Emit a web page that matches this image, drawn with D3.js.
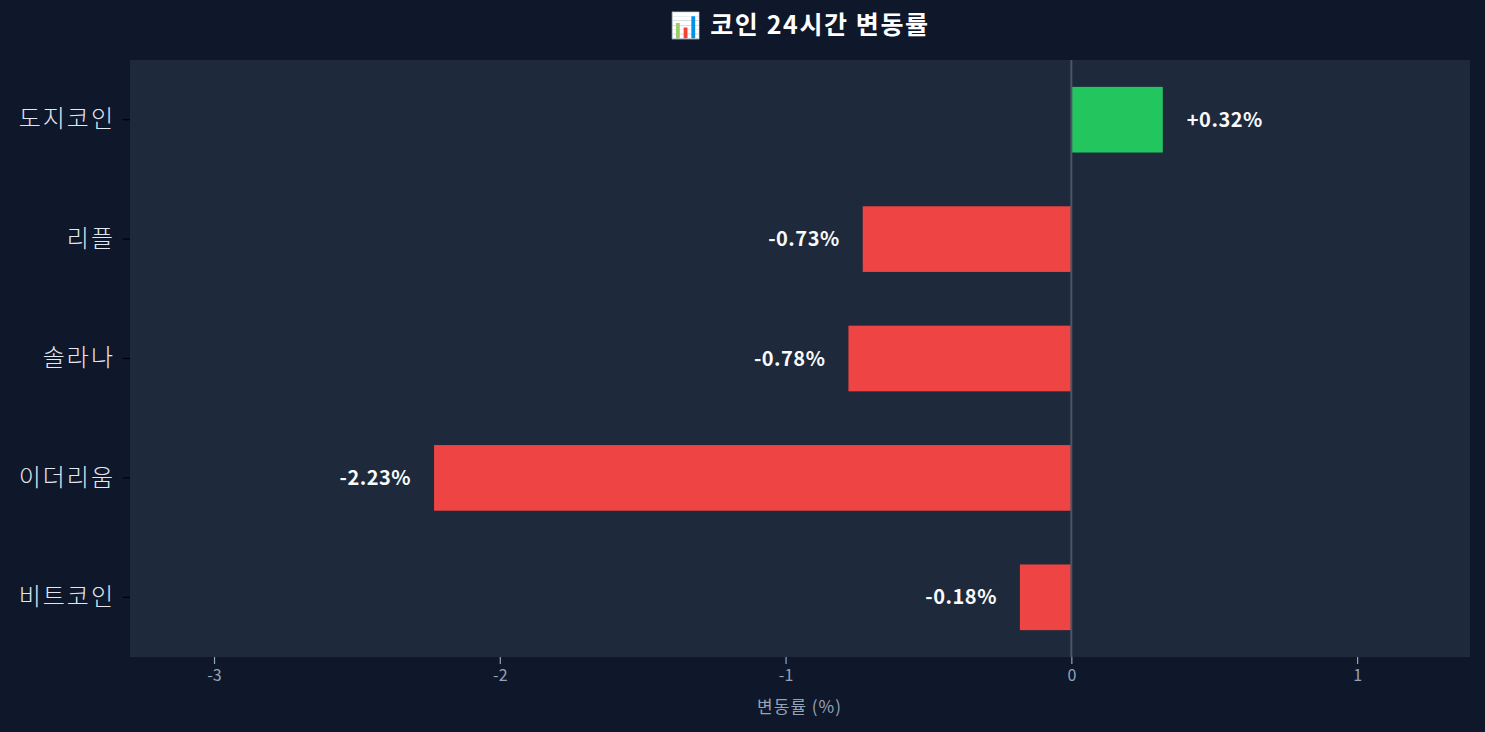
<!DOCTYPE html>
<html>
<head>
<meta charset="utf-8">
<script src="https://cdn.jsdelivr.net/npm/d3@7"></script>
<style>
  body { margin: 0; background: #0f172a; }
  svg { display: block; font-family: "Noto Sans CJK KR", "Noto Sans", sans-serif; }
</style>
</head>
<body>
<div id="chart-area"></div>
<script>
// data
let coins = ["도지코인", "리플", "솔라나", "이더리움", "비트코인"];
let changes = [0.32, -0.73, -0.78, -2.23, -0.18];
let xTicks = [-3, -2, -1, 0, 1];

// define margins
let margin = { top: 60, right: 15, bottom: 75, left: 130 };
let totalW = 1485, totalH = 732;
let width = totalW - margin.left - margin.right,
    height = totalH - margin.top - margin.bottom;

let svgRoot = d3.select("#chart-area")
    .append("svg")
    .attr("width", totalW)
    .attr("height", totalH);

svgRoot.append("rect")
    .attr("width", totalW)
    .attr("height", totalH)
    .attr("fill", "#0f172a");

// title
svgRoot.append("text")
    .attr("x", 800)
    .attr("y", 34)
    .attr("text-anchor", "middle")
    .attr("fill", "#ffffff")
    .attr("font-size", 25)
    .attr("font-weight", "bold")
    .attr("letter-spacing", 1.6)
    .text("📊 코인 24시간 변동률");

let svg = svgRoot.append("g")
    .attr("transform", "translate(" + margin.left + "," + margin.top + ")");

svg.append("rect")
    .attr("width", width)
    .attr("height", height)
    .attr("fill", "#1e293b");

let x = d3.scaleLinear()
    .domain([-3.294, 1.395])
    .range([0, width]);

let y = d3.scaleBand()
    .domain(coins)
    .range([0, height])
    .paddingInner(0.45)
    .paddingOuter(0.225);

// bars
svg.selectAll(".bar")
    .data(changes)
    .enter().append("rect")
    .attr("class", "bar")
    .attr("x", d => x(Math.min(0, d)))
    .attr("y", (d, i) => y(coins[i]))
    .attr("width", d => Math.abs(x(d) - x(0)))
    .attr("height", y.bandwidth())
    .attr("fill", d => d >= 0 ? "#22c55e" : "#ef4444");

// zero line
svg.append("line")
    .attr("x1", x(0)).attr("x2", x(0))
    .attr("y1", 0).attr("y2", height)
    .attr("stroke", "#4b5563")
    .attr("stroke-width", 2);

// value labels
svg.selectAll(".val")
    .data(changes)
    .enter().append("text")
    .attr("class", "val")
    .attr("x", d => d >= 0 ? x(d) + 24 : x(d) - 23)
    .attr("y", (d, i) => y(coins[i]) + y.bandwidth() / 2)
    .attr("dy", "0.35em")
    .attr("text-anchor", d => d >= 0 ? "start" : "end")
    .attr("fill", "#f8fafc")
    .attr("font-size", 20)
    .attr("font-weight", "bold")
    .attr("letter-spacing", 0.5)
    .text(d => (d >= 0 ? "+" : "") + d.toFixed(2) + "%");

// x axis
let xAxis = svg.append("g")
    .attr("transform", "translate(0," + height + ")")
    .call(d3.axisBottom(x).tickValues(xTicks).tickFormat(d3.format("d")).tickSize(7).tickPadding(6));
xAxis.select(".domain").remove();
xAxis.selectAll("line").attr("stroke", "#94a3b8").attr("stroke-width", 1.2);
xAxis.selectAll("text").attr("fill", "#94a3b8").attr("font-size", 16)
    .style("font-family", "'Noto Sans CJK KR', sans-serif")
    .text(d => d < 0 ? "-" + Math.abs(d) : d);

svg.append("text")
    .attr("x", x(-1) + 14)
    .attr("y", height + 56)
    .attr("text-anchor", "middle")
    .attr("fill", "#94a3b8")
    .attr("font-size", 17)
    .attr("letter-spacing", 1)
    .text("변동률 (%)");

// y axis
let yAxis = svg.append("g")
    .call(d3.axisLeft(y).tickSize(7).tickPadding(8));
yAxis.select(".domain").remove();
yAxis.selectAll("line").attr("stroke", "#000000").attr("stroke-width", 1.2);
yAxis.selectAll("text").attr("fill", "#e2e8f0").attr("font-size", 24)
    .attr("letter-spacing", 2)
    .style("font-family", "'Noto Sans CJK KR', sans-serif")
    .style("font-weight", 300);
</script>
</body>
</html>
